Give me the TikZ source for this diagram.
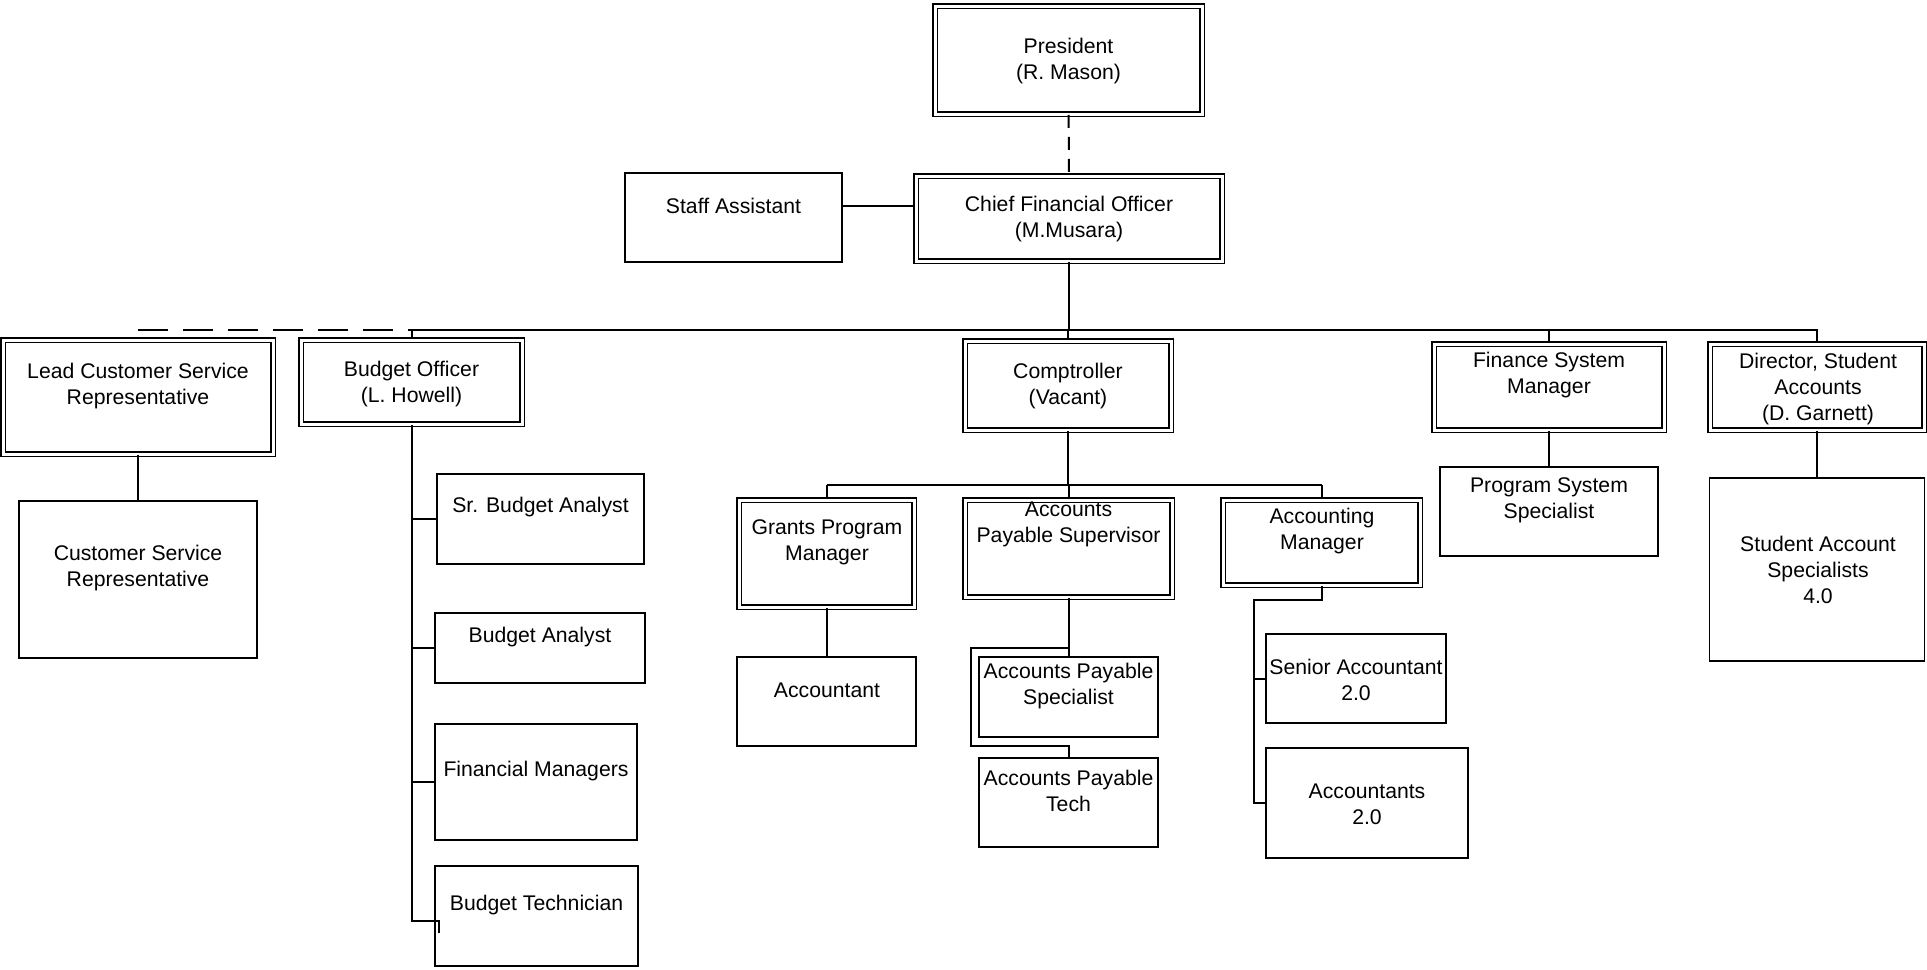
\documentclass[tikz,border=0pt]{standalone}
\usepackage{fontspec}
\setmainfont{Liberation Sans}
\usetikzlibrary{calc}
\tikzset{
  box/.style={draw,line width=0.9pt,inner sep=0pt},
  dbox/.style={draw,double,double distance=1.5pt,line width=0.85pt,inner sep=0pt},
  sz/.style 2 args={minimum width=#1*0.5pt,minimum height=#2*0.5pt},
  txt/.style={align=center,inner sep=0pt,font=\fontsize{10.6}{13}\selectfont},
  link/.style={line width=1pt},
}
\begin{document}
\begin{tikzpicture}[x=0.5pt,y=-0.5pt]
\useasboundingbox (0,0) rectangle (1927,969);
%top
\node[dbox,sz={267}{108}] (pres) at (1068.5,60) {};
\node[txt] (presT) at (1068.5,61) {President\\(R. Mason)};
\node[dbox,sz={306}{85}] (cfo) at (1069,218.5) {};
\node[txt] (cfoT) at (1069,219) {Chief Financial Officer\\(M.Musara)};
\node[box,sz={217}{89}] (staff) at (733.5,217.5) {};
\node[txt] (staffT) at (733.5,206) {Staff Assistant};
%second row
\node[dbox,sz={270}{114}] (lcs) at (138,397) {};
\node[txt] (lcsT) at (138,386) {Lead Customer Service\\Representative};
\node[dbox,sz={221}{84}] (bo) at (411.5,382) {};
\node[txt] (boT) at (411.5,384) {Budget Officer\\(L. Howell)};
\node[dbox,sz={206}{89}] (comp) at (1068,385.5) {};
\node[txt] (compT) at (1068,386) {Comptroller\\(Vacant)};
\node[dbox,sz={230}{86}] (fsm) at (1549,387) {};
\node[txt] (fsmT) at (1549,375.5) {Finance System\\Manager};
\node[dbox,sz={214}{86}] (dsa) at (1817,387) {};
\node[txt] (dsaT) at (1818,389) {Director, Student\\Accounts\\(D. Garnett)};
%customer service
\node[box,sz={238}{157}] (csr) at (138,579.5) {};
\node[txt] (csrT) at (138,568) {Customer Service\\Representative};
%budget
\node[box,sz={207}{90}] (sba) at (540.5,519) {};
\node[txt] (sbaT) at (540.5,507) {Sr. Budget Analyst};
\node[box,sz={210}{70}] (ba) at (540,648) {};
\node[txt] (baT) at (540,637) {Budget Analyst};
\node[box,sz={202}{116}] (fm) at (536,782) {};
\node[txt] (fmT) at (536,771) {Financial Managers};
\node[box,sz={203}{100}] (bt) at (536.5,916) {};
\node[txt] (btT) at (536.5,905) {Budget Technician};
%comptroller
\node[dbox,sz={175}{107}] (gpm) at (826.5,553.5) {};
\node[txt] (gpmT) at (827,542) {Grants Program\\Manager};
\node[dbox,sz={207}{97}] (aps) at (1068.5,548.5) {};
\node[txt] (apsT) at (1068.5,524) {Accounts\\Payable Supervisor};
\node[dbox,sz={197}{85}] (am) at (1321.5,542.5) {};
\node[txt] (amT) at (1322,531) {Accounting\\Manager};
\node[box,sz={179}{89}] (acct) at (826.5,701.5) {};
\node[txt] (acctT) at (827,690) {Accountant};
\node[box,sz={179}{80}] (aps2) at (1068.5,697) {};
\node[txt] (aps2T) at (1068.5,686) {Accounts Payable\\Specialist};
\node[box,sz={179}{89}] (apt) at (1068.5,802.5) {};
\node[txt] (aptT) at (1068.5,791) {Accounts Payable\\Tech};
\node[box,sz={180}{89}] (sa) at (1356,678.5) {};
\node[txt] (saT) at (1356,680) {Senior Accountant\\2.0};
\node[box,sz={202}{110}] (acs) at (1367,803) {};
\node[txt] (acsT) at (1367,804.5) {Accountants\\2.0};
%systems, student accounts
\node[box,sz={218}{89}] (pss) at (1549,511.5) {};
\node[txt] (pssT) at (1549,500.5) {Program System\\Specialist};
\node[box,sz={215}{183}] (sas) at (1817,569.5) {};
\node[txt] (sasT) at (1818,570) {Student Account\\Specialists\\4.0};
%lines
\coordinate (bus) at (0,330);
\coordinate (cbus) at (0,485);
\draw[link,dash pattern=on 6.5pt off 4.5pt] (pres) -- (cfo);
\draw[link] ([yshift=6pt]staff.east) -- ([yshift=6pt]staff.east -| cfo.west);
\draw[link] (cfo.south) -- (cfo.south |- bus);
\draw[link,dash pattern=on 15pt off 7.5pt] (lcs.north |- bus) -- (bo.north |- bus);
\draw[link] (bo.north |- bus) -- (dsa.north |- bus) -- (dsa.north);
\foreach \n in {bo,comp,fsm}{
\draw[link] (\n.north |- bus) -- (\n.north);
}
\draw[link] (lcs) -- (csr);
\draw[link] (fsm) -- (pss);
\draw[link] (dsa) -- (sas);
%budget officer
\draw[link] (bo.south) |- ([shift={(2.5pt,-2.5pt)}]bt.west) -- ++(0,-6pt);
\foreach \n in {sba,ba,fm}{
\draw[link] (bo.south |- \n.west) -- (\n.west);
}
%comptroller
\draw[link] (comp.south) -- (comp.south |- cbus);
\draw[link] (gpm.north |- cbus) -- (am.north |- cbus);
\foreach \n in {gpm,aps,am}{
\draw[link] (\n.north |- cbus) -- (\n.north);
}
\draw[link] (gpm) -- (acct);
\draw[link] (aps) -- (aps2);
\draw[link] ([yshift=4pt]aps2.north) -| ([shift={(-3.5pt,-4pt)}]aps2.south west) -| (apt.north);
\draw[link] (am.south) -- ++(0,-7pt) -| ([xshift=-5.5pt]acs.west) -- (acs.west);
\draw[link] ([xshift=-5.5pt]acs.west |- sa.west) -- (sa.west);
\end{tikzpicture}
\end{document}
